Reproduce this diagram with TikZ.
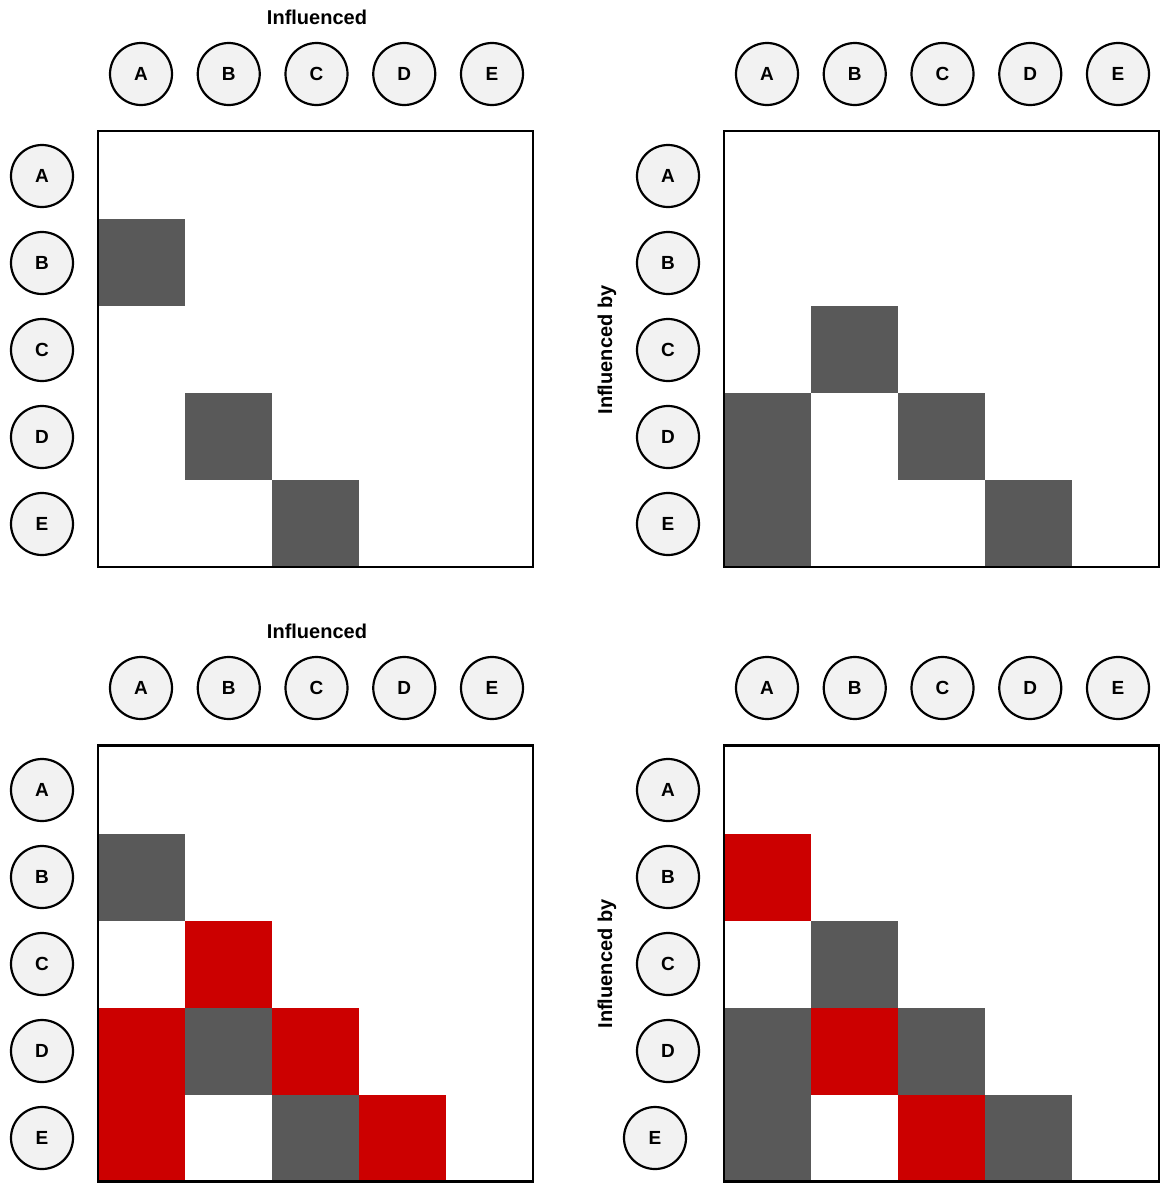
\documentclass[tikz,border=0pt]{standalone}
\usepackage{fontspec}
\setmainfont{Liberation Sans}
\usetikzlibrary{positioning}

\begin{document}
\begin{tikzpicture}[
  x=1pt,y=-1pt,
  node distance=87pt and 87.75pt,on grid,
  agent/.style={draw,circle,line width=2.2pt,fill=black!5,minimum size=62pt,inner sep=0pt,font=\fontsize{19}{19}\selectfont\bfseries},
  panel/.style={draw,line width=2.5pt,minimum width=435pt,minimum height=436pt,inner sep=0pt},
  axis/.style={font=\fontsize{20}{20}\selectfont\bfseries},
  dark/.style={fill=black!65},
  hot/.style={fill=red!80!black}
]
  \useasboundingbox (0,0) rectangle (1160,1183);

  % top left
  \fill[dark] (98,219) rectangle ++(87,87);
  \fill[dark] (185,393) rectangle ++(87,87);
  \fill[dark] (272,480) rectangle ++(87,87);
  \node[panel] (tl) at (315.5,349) {};
  \node[axis] (tlx) at (317,17) {Influenced};
  \node[agent] (tlcA) at (141,74) {A};
  \node[agent,right=of tlcA] (tlcB) {B};
  \node[agent,right=of tlcB] (tlcC) {C};
  \node[agent,right=of tlcC] (tlcD) {D};
  \node[agent,right=of tlcD] (tlcE) {E};
  \node[agent] (tlrA) at (42,176) {A};
  \node[agent,below=of tlrA] (tlrB) {B};
  \node[agent,below=of tlrB] (tlrC) {C};
  \node[agent,below=of tlrC] (tlrD) {D};
  \node[agent,below=of tlrD] (tlrE) {E};

  % top right
  \fill[dark] (811,306) rectangle ++(87,87);
  \fill[dark] (724,393) rectangle ++(87,87);
  \fill[dark] (898,393) rectangle ++(87,87);
  \fill[dark] (724,480) rectangle ++(87,87);
  \fill[dark] (985,480) rectangle ++(87,87);
  \node[panel] (tr) at (941.5,349) {};
  \node[axis,rotate=90] (try) at (607,350) {Influenced by};
  \node[agent] (trcA) at (767,74) {A};
  \node[agent,right=of trcA] (trcB) {B};
  \node[agent,right=of trcB] (trcC) {C};
  \node[agent,right=of trcC] (trcD) {D};
  \node[agent,right=of trcD] (trcE) {E};
  \node[agent] (trrA) at (668,176) {A};
  \node[agent,below=of trrA] (trrB) {B};
  \node[agent,below=of trrB] (trrC) {C};
  \node[agent,below=of trrC] (trrD) {D};
  \node[agent,below=of trrD] (trrE) {E};

  % bottom left
  \fill[dark] (98,834) rectangle ++(87,87);
  \fill[hot] (185,921) rectangle ++(87,87);
  \fill[hot] (98,1008) rectangle ++(87,87);
  \fill[dark] (185,1008) rectangle ++(87,87);
  \fill[hot] (272,1008) rectangle ++(87,87);
  \fill[hot] (98,1095) rectangle ++(87,87);
  \fill[dark] (272,1095) rectangle ++(87,87);
  \fill[hot] (359,1095) rectangle ++(87,87);
  \node[panel] (bl) at (315.5,963.5) {};
  \node[axis] (blx) at (317,631) {Influenced};
  \node[agent] (blcA) at (141,688) {A};
  \node[agent,right=of blcA] (blcB) {B};
  \node[agent,right=of blcB] (blcC) {C};
  \node[agent,right=of blcC] (blcD) {D};
  \node[agent,right=of blcD] (blcE) {E};
  \node[agent] (blrA) at (42,790) {A};
  \node[agent,below=of blrA] (blrB) {B};
  \node[agent,below=of blrB] (blrC) {C};
  \node[agent,below=of blrC] (blrD) {D};
  \node[agent,below=of blrD] (blrE) {E};

  % bottom right
  \fill[hot] (724,834) rectangle ++(87,87);
  \fill[dark] (811,921) rectangle ++(87,87);
  \fill[dark] (724,1008) rectangle ++(87,87);
  \fill[hot] (811,1008) rectangle ++(87,87);
  \fill[dark] (898,1008) rectangle ++(87,87);
  \fill[dark] (724,1095) rectangle ++(87,87);
  \fill[hot] (898,1095) rectangle ++(87,87);
  \fill[dark] (985,1095) rectangle ++(87,87);
  \node[panel] (br) at (941.5,963.5) {};
  \node[axis,rotate=90] (bry) at (607,964) {Influenced by};
  \node[agent] (brcA) at (767,688) {A};
  \node[agent,right=of brcA] (brcB) {B};
  \node[agent,right=of brcB] (brcC) {C};
  \node[agent,right=of brcC] (brcD) {D};
  \node[agent,right=of brcD] (brcE) {E};
  \node[agent] (brrA) at (668,790) {A};
  \node[agent,below=of brrA] (brrB) {B};
  \node[agent,below=of brrB] (brrC) {C};
  \node[agent,below=of brrC] (brrD) {D};
  \node[agent,below=of brrD,xshift=-13pt] (brrE) {E};
\end{tikzpicture}
\end{document}
